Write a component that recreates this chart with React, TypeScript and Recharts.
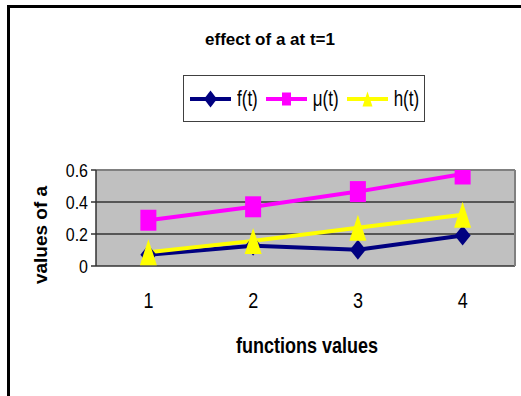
import { LineChart, Line, XAxis, YAxis, CartesianGrid, ReferenceLine, Legend } from 'recharts';

const categories = [1, 2, 3, 4];
const fValues = [0.07, 0.127, 0.102, 0.19];
const muValues = [0.286, 0.37, 0.465, 0.575];
const hValues = [0.086, 0.157, 0.239, 0.32];
const seriesNames = ['f(t)', 'μ(t)', 'h(t)'];
const yTicks = [0, 0.2, 0.4, 0.6];
const xBoundaries = [0.5, 1.5, 2.5, 3.5, 4.5];

const FONT = '"Liberation Sans", Arial, sans-serif';

const data = categories.map((c, i) => ({ x: c, f: fValues[i], mu: muValues[i], h: hValues[i] }));

type Shape = 'diamond' | 'square' | 'triangle';

// sizes are half-width / half-height
const markerSizes: Record<Shape, [number, number]> = {
  diamond: [8, 10],
  square: [8, 10.5],
  triangle: [8.5, 13],
};
const legendMarkerSizes: Record<Shape, [number, number]> = {
  diamond: [6.5, 8.5],
  square: [4.5, 6.5],
  triangle: [5, 7.5],
};

function markerPath(shape: Shape, cx: number, cy: number, size: [number, number]) {
  const [w, h] = size;
  if (shape === 'diamond') return `M${cx},${cy - h}L${cx + w},${cy}L${cx},${cy + h}L${cx - w},${cy}Z`;
  if (shape === 'square') return `M${cx - w},${cy - h}H${cx + w}V${cy + h}H${cx - w}Z`;
  return `M${cx},${cy - h}L${cx + w},${cy + h}L${cx - w},${cy + h}Z`;
}

const series = [
  { key: 'f', name: seriesNames[0], color: '#000080', shape: 'diamond' as Shape },
  { key: 'mu', name: seriesNames[1], color: '#FF00FF', shape: 'square' as Shape },
  { key: 'h', name: seriesNames[2], color: '#FFFF00', shape: 'triangle' as Shape },
];

const makeDot = (shape: Shape, color: string) => (props: any) => {
  const { cx, cy, index } = props;
  if (cx == null || cy == null) return <g key={index} />;
  return <path key={index} d={markerPath(shape, cx, cy, markerSizes[shape])} fill={color} stroke="none" />;
};

const YTick = (props: any) => {
  const { x, y, payload } = props;
  const v = payload.value as number;
  return (
    <g transform={`translate(${x},${y}) scale(1,1.13)`}>
      <text textAnchor="end" dy="0.36em" fontSize={16} fill="#000" fontFamily={FONT}>
        {v === 0 ? '0' : v.toFixed(1)}
      </text>
    </g>
  );
};

const XTick = (props: any) => {
  const { x, y, payload } = props;
  return (
    <g transform={`translate(${x},${y}) scale(1,1.25)`}>
      <text textAnchor="middle" dy="0.72em" fontSize={18} fill="#000" fontFamily={FONT}>
        {payload.value}
      </text>
    </g>
  );
};

function LegendBox() {
  return (
    <div
      style={{
        width: 242,
        height: 47,
        boxSizing: 'border-box',
        border: '1px solid #404040',
        background: '#fff',
        display: 'flex',
        alignItems: 'center',
        paddingLeft: 6,
        fontFamily: FONT,
        fontSize: 17,
        color: '#000',
      }}
    >
      {series.map((s) => (
        <div key={s.key} style={{ display: 'flex', alignItems: 'center', marginRight: 8 }}>
          <svg width={41} height={24} style={{ marginRight: 6 }}>
            <line x1={0} y1={12} x2={41} y2={12} stroke={s.color} strokeWidth={4} />
            <path d={markerPath(s.shape, 20.5, 12, legendMarkerSizes[s.shape])} fill={s.color} />
          </svg>
          <span style={{ display: 'inline-block', transform: 'scaleY(1.35)' }}>{s.name}</span>
        </div>
      ))}
    </div>
  );
}

export default function App() {
  return (
    <div
      style={{
        position: 'absolute',
        left: 0,
        top: 0,
        width: 521,
        height: 396,
        background: '#fff',
        overflow: 'hidden',
        fontFamily: FONT,
      }}
    >
      <div
        style={{
          position: 'absolute',
          left: 7,
          top: 5,
          width: 600,
          height: 500,
          borderTop: '3px solid #000',
          borderLeft: '3px solid #000',
        }}
      />
      <div style={{ position: 'absolute', left: 0, top: 0, width: 521, height: 396 }}>
        <LineChart width={521} height={396} data={data} margin={{ top: 170, right: 6, bottom: 90, left: 36 }}>
          <CartesianGrid
            xAxisId="b"
            vertical={false}
            stroke="#333"
            strokeWidth={1.5}
            fill="#C0C0C0"
            fillOpacity={1}
          />
          <XAxis
            xAxisId="b"
            type="number"
            dataKey="x"
            domain={[0.5, 4.5]}
            ticks={xBoundaries}
            allowDataOverflow
            tick={false}
            tickSize={6}
            height={0}
            axisLine={{ stroke: '#000', strokeWidth: 1.5 }}
            tickLine={{ stroke: '#000', strokeWidth: 1.5 }}
          />
          <XAxis
            xAxisId="l"
            type="number"
            dataKey="x"
            domain={[0.5, 4.5]}
            ticks={categories}
            allowDataOverflow
            axisLine={false}
            tickLine={false}
            tickSize={0}
            tickMargin={26}
            height={40}
            tick={<XTick />}
          />
          <YAxis
            type="number"
            domain={[0, 0.6]}
            ticks={yTicks}
            allowDataOverflow
            width={60}
            tickSize={5}
            tickMargin={3}
            tick={<YTick />}
            axisLine={{ stroke: '#333', strokeWidth: 1.5 }}
            tickLine={{ stroke: '#333', strokeWidth: 1.5 }}
          />
          <ReferenceLine xAxisId="b" y={0.6} stroke="#808080" strokeWidth={2} />
          <ReferenceLine xAxisId="b" x={4.5} stroke="#808080" strokeWidth={2} />
          <Legend
            layout="vertical"
            align="center"
            verticalAlign="middle"
            wrapperStyle={{ top: 75, left: 183, width: 242, height: 47 }}
            content={() => <LegendBox />}
          />
          {series.map((s) => (
            <Line
              key={s.key}
              xAxisId="b"
              type="linear"
              dataKey={s.key}
              name={s.name}
              stroke={s.color}
              strokeWidth={4}
              dot={makeDot(s.shape, s.color)}
              activeDot={false}
              isAnimationActive={false}
            />
          ))}
        </LineChart>
      </div>
      <div
        style={{
          position: 'absolute',
          left: 0,
          width: 540,
          top: 31,
          textAlign: 'center',
          fontWeight: 'bold',
          fontSize: 17,
          lineHeight: '17px',
        }}
      >
        effect of a at t=1
      </div>
      <div
        style={{
          position: 'absolute',
          left: 40,
          top: 235,
          transform: 'translate(-50%, -50%) rotate(-90deg)',
          whiteSpace: 'nowrap',
          fontWeight: 'bold',
          fontSize: 19,
          lineHeight: '19px',
        }}
      >
        values of a
      </div>
      <div
        style={{
          position: 'absolute',
          left: 307,
          top: 337,
          transform: 'translateX(-50%) scaleY(1.2)',
          whiteSpace: 'nowrap',
          fontWeight: 'bold',
          fontSize: 18,
          lineHeight: '18px',
        }}
      >
        functions values
      </div>
    </div>
  );
}
